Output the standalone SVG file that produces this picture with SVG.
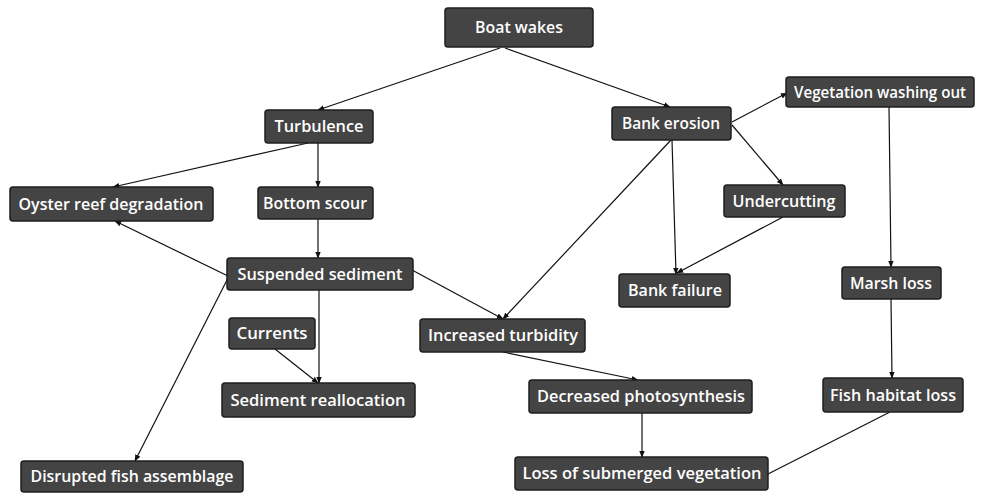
<svg xmlns="http://www.w3.org/2000/svg" width="981" height="495" viewBox="0 0 981 495">
  <style>
    .box { fill: #444444; stroke: #1e1e1e; stroke-width: 1.5; }
    .lbl { fill: #ffffff; font-family: "Open Sans", "Liberation Sans", sans-serif; font-size: 17px; font-weight: 600; text-anchor: middle; }
    .tight { font-size: 15.5px; }
    .edge { stroke: #111111; stroke-width: 1.2; fill: none; }
  </style>
  <defs>
    <marker id="arr" viewBox="0 0 10 10" refX="9" refY="5" markerWidth="7" markerHeight="7" orient="auto" markerUnits="userSpaceOnUse">
      <path d="M0,1 L10,5 L0,9 z" fill="#111111"/>
    </marker>
  </defs>

  <!-- connectors -->
  <g id="connectors">
    <line class="edge" x1="500" y1="48" x2="318" y2="110" marker-end="url(#arr)"/>
    <line class="edge" x1="505" y1="48" x2="670" y2="107" marker-end="url(#arr)"/>
    <line class="edge" x1="308" y1="143" x2="113" y2="187" marker-end="url(#arr)"/>
    <line class="edge" x1="318" y1="143" x2="318" y2="187" marker-end="url(#arr)"/>
    <line class="edge" x1="318" y1="219" x2="318" y2="258" marker-end="url(#arr)"/>
    <line class="edge" x1="228" y1="276" x2="115" y2="221" marker-end="url(#arr)"/>
    <line class="edge" x1="228" y1="278" x2="135" y2="461" marker-end="url(#arr)"/>
    <line class="edge" x1="319" y1="290" x2="319" y2="383" marker-end="url(#arr)"/>
    <line class="edge" x1="275" y1="349" x2="318" y2="383" marker-end="url(#arr)"/>
    <line class="edge" x1="412" y1="270" x2="503" y2="319" marker-end="url(#arr)"/>
    <line class="edge" x1="671" y1="140" x2="503" y2="319" marker-end="url(#arr)"/>
    <line class="edge" x1="672" y1="140" x2="676" y2="274" marker-end="url(#arr)"/>
    <line class="edge" x1="732" y1="125" x2="783" y2="185" marker-end="url(#arr)"/>
    <line class="edge" x1="783" y1="217" x2="677" y2="273" marker-end="url(#arr)"/>
    <line class="edge" x1="732" y1="122" x2="787" y2="93" marker-end="url(#arr)"/>
    <line class="edge" x1="889" y1="107" x2="891" y2="267" marker-end="url(#arr)"/>
    <line class="edge" x1="891" y1="299" x2="892" y2="378" marker-end="url(#arr)"/>
    <line class="edge" x1="503" y1="352" x2="638" y2="380" marker-end="url(#arr)"/>
    <line class="edge" x1="642" y1="413" x2="642" y2="457" marker-end="url(#arr)"/>
    <line class="edge" x1="890" y1="412" x2="768" y2="474"/>
  </g>

  <!-- nodes -->
  <g id="boat-wakes"><rect class="box" x="445" y="8" width="148" height="39" rx="3"/><text class="lbl" x="519" y="33" textLength="88" lengthAdjust="spacingAndGlyphs">Boat wakes</text></g>
  <g id="turbulence"><rect class="box" x="265" y="110" width="108" height="33" rx="3"/><text class="lbl" x="319" y="132" textLength="89" lengthAdjust="spacingAndGlyphs">Turbulence</text></g>
  <g id="bottom-scour"><rect class="box" x="258" y="187" width="115" height="32" rx="3"/><text class="lbl" x="315" y="209" textLength="104" lengthAdjust="spacingAndGlyphs">Bottom scour</text></g>
  <g id="oyster-reef"><rect class="box" x="10" y="187" width="203" height="34" rx="3"/><text class="lbl" x="111" y="210" textLength="185" lengthAdjust="spacingAndGlyphs">Oyster reef degradation</text></g>
  <g id="suspended-sediment"><rect class="box" x="227" y="258" width="186" height="32" rx="3"/><text class="lbl" x="320" y="280" textLength="165" lengthAdjust="spacingAndGlyphs">Suspended sediment</text></g>
  <g id="bank-erosion"><rect class="box" x="612" y="107" width="119" height="33" rx="3"/><text class="lbl" x="671" y="129" textLength="98" lengthAdjust="spacingAndGlyphs">Bank erosion</text></g>
  <g id="vegetation-washing-out"><rect class="box" x="786" y="77" width="188" height="30" rx="3"/><text class="lbl tight" x="880" y="98" textLength="172" lengthAdjust="spacingAndGlyphs">Vegetation washing out</text></g>
  <g id="undercutting"><rect class="box" x="724" y="185" width="121" height="32" rx="3"/><text class="lbl" x="784" y="207" textLength="103" lengthAdjust="spacingAndGlyphs">Undercutting</text></g>
  <g id="bank-failure"><rect class="box" x="619" y="274" width="111" height="33" rx="3"/><text class="lbl" x="675" y="296" textLength="94" lengthAdjust="spacingAndGlyphs">Bank failure</text></g>
  <g id="marsh-loss"><rect class="box" x="842" y="267" width="99" height="32" rx="3"/><text class="lbl" x="891" y="289" textLength="82" lengthAdjust="spacingAndGlyphs">Marsh loss</text></g>
  <g id="currents"><rect class="box" x="229" y="318" width="86" height="31" rx="3"/><text class="lbl" x="272" y="339" textLength="71" lengthAdjust="spacingAndGlyphs">Currents</text></g>
  <g id="increased-turbidity"><rect class="box" x="420" y="319" width="165" height="33" rx="3"/><text class="lbl" x="503" y="341" textLength="150" lengthAdjust="spacingAndGlyphs">Increased turbidity</text></g>
  <g id="sediment-reallocation"><rect class="box" x="222" y="383" width="193" height="34" rx="3"/><text class="lbl" x="318" y="406" textLength="175" lengthAdjust="spacingAndGlyphs">Sediment reallocation</text></g>
  <g id="decreased-photosynthesis"><rect class="box" x="529" y="380" width="223" height="33" rx="3"/><text class="lbl" x="641" y="402" textLength="208" lengthAdjust="spacingAndGlyphs">Decreased photosynthesis</text></g>
  <g id="fish-habitat-loss"><rect class="box" x="823" y="378" width="140" height="34" rx="3"/><text class="lbl" x="893" y="401" textLength="126" lengthAdjust="spacingAndGlyphs">Fish habitat loss</text></g>
  <g id="disrupted-fish-assemblage"><rect class="box" x="21" y="461" width="222" height="31" rx="3"/><text class="lbl" x="132" y="482" textLength="203" lengthAdjust="spacingAndGlyphs">Disrupted fish assemblage</text></g>
  <g id="loss-submerged-vegetation"><rect class="box" x="515" y="457" width="253" height="33" rx="3"/><text class="lbl" x="642" y="479" textLength="239" lengthAdjust="spacingAndGlyphs">Loss of submerged vegetation</text></g>
</svg>
